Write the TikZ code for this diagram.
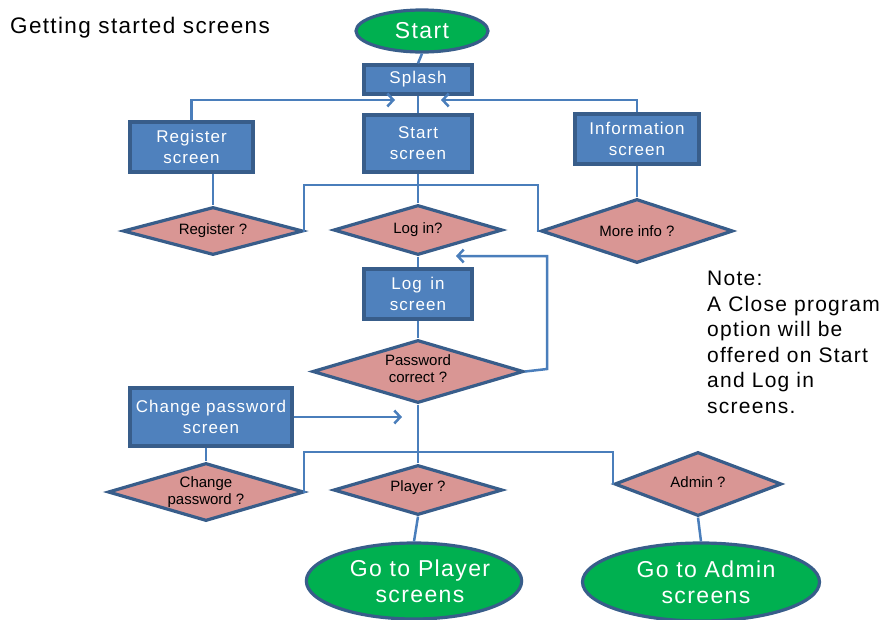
\documentclass[tikz,border=0pt]{standalone}
\usepackage{fontspec}
\setmainfont{Liberation Sans}[LetterSpace=6]
\newfontfamily\dfont{Liberation Sans}
\usetikzlibrary{shapes.geometric,arrows.meta}
\definecolor{boxfill}{RGB}{79,129,189}
\definecolor{edge}{RGB}{56,93,138}
\definecolor{dfill}{RGB}{217,150,148}
\definecolor{gfill}{RGB}{0,176,80}
\definecolor{conn}{RGB}{74,126,187}
\tikzset{
  box/.style={rectangle, draw=edge, line width=3.2pt, fill=boxfill, text=white, inner sep=0pt, align=center, font=\fontsize{17}{21}\selectfont},
  dec/.style={diamond, draw=edge, line width=3.2pt, fill=dfill, inner sep=0pt},
  dlab/.style={text=black, inner sep=0pt, align=center, font=\dfont\fontsize{15}{17.5}\selectfont},
  term/.style={ellipse, draw=edge, line width=3.2pt, fill=gfill, text=white, inner sep=0pt, align=center, font=\fontsize{23}{26}\selectfont},
  link/.style={draw=conn, line width=2.5pt},
  arr/.style={link, -{Straight Barb[length=6pt,width=13pt,line width=2.5pt]}},
  plain/.style={inner sep=0pt, anchor=north west, align=left, text=black}
}
\begin{document}
\begin{tikzpicture}[x=1pt,y=-1pt]
\path[use as bounding box] (0,0) rectangle (892,619);
% title and note
\node[plain, font=\fontsize{22.5}{26}\selectfont] (title) at (10,17) {Getting started screens};
\node[plain, font=\fontsize{21}{25.5}\selectfont] (note) at (707,271) {Note:\\A Close program\\option will be\\offered on Start\\and Log in\\screens.};
% nodes
\node[term, minimum width=132pt, minimum height=42pt] (start) at (422,31) {Start};
\node[box, minimum width=108pt, minimum height=29pt] (splash) at (418,79.5) {Splash};
\node[box, minimum width=123pt, minimum height=50pt] (reg) at (191.5,147) {Register\\screen};
\node[box, minimum width=108pt, minimum height=57pt] (startscr) at (418,143.5) {Start\\screen};
\node[box, minimum width=124pt, minimum height=50pt] (info) at (637,139) {Information\\screen};
\node[dec, minimum width=180pt, minimum height=48pt, label={[dlab]center:Register ?}] (regq) at (213,231) {};
\node[dec, minimum width=169pt, minimum height=50pt, label={[dlab]center:Log in?}] (loginq) at (418,230) {};
\node[dec, minimum width=192pt, minimum height=64pt, label={[dlab]center:More info ?}] (moreq) at (637,231) {};
\node[box, minimum width=108pt, minimum height=50pt] (loginscr) at (418,294) {Log\enspace in\\screen};
\node[dec, minimum width=211pt, minimum height=63pt, label={[dlab, yshift=3pt]center:Password\\correct ?}] (pwq) at (418,371.5) {};
\node[box, minimum width=162pt, minimum height=58pt] (chpw) at (211,417) {Change password\\screen};
\node[dec, minimum width=196pt, minimum height=58pt, label={[dlab]center:Change\\password ?}] (chpwq) at (206,492) {};
\node[dec, minimum width=169pt, minimum height=50pt, label={[dlab, yshift=2pt]center:Player ?}] (playerq) at (418,490) {};
\node[dec, minimum width=167pt, minimum height=64pt, label={[dlab, yshift=2pt]center:Admin ?}] (adminq) at (698,484) {};
\node[term, minimum width=208pt, minimum height=76pt] (goplayer) at (414,581) {\hspace*{12pt}Go to Player\\\hspace*{12pt}screens};
\node[term, minimum width=237pt, minimum height=78pt] (goadmin) at (701,582) {\hspace*{10pt}Go to Admin\\\hspace*{10pt}screens};
% coordinates
\coordinate (t1) at (395,100);
\coordinate (t2) at (441,100);
\coordinate (j1) at (304,185);
\coordinate (j2) at (538,185);
\coordinate (b1) at (547,369);
\coordinate (t3) at (456,256);
\coordinate (t4) at (402,417);
\coordinate (k1) at (304,452);
\coordinate (k2) at (613,452);
% connectors
\path[link] (start.south) -- (splash.north);
\path[link] (splash.south) -- (startscr.north);
\path[arr] (reg.north) |- (t1);
\path[arr] (info.north) |- (t2);
\path[link] (startscr.south) -- (loginq.north);
\path[link] (regq.east) -| (j1) -- (j2) |- (moreq.west);
\path[link] (regq.north |- reg.south) -- (regq.north);
\path[link] (info.south) -- (moreq.north);
\path[link] (loginq.south) -- (loginscr.north);
\path[link] (loginscr.south) -- (pwq.north);
\path[arr] (pwq.east) -- (b1) |- (t3);
\path[arr] (chpw.east) -- (t4);
\path[link] (pwq.south) -- (playerq.north);
\path[link] (chpwq.east) -| (k1) -- (k2) |- (adminq.west);
\path[link] (chpwq.north |- chpw.south) -- (chpwq.north);
\path[link] (playerq.south) -- (goplayer.north);
\path[link] (adminq.south) -- (goadmin.north);
\end{tikzpicture}
\end{document}
